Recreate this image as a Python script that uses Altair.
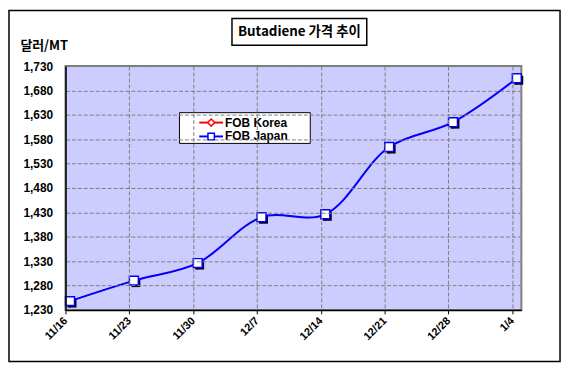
import altair as alt
import pandas as pd

# ---- data ----
dates = ["11/16", "11/23", "11/30", "12/7", "12/14", "12/21", "12/28", "1/4"]
korea = [1248, 1290, 1326, 1420, 1426, 1564, 1615, 1705]
japan = [1248, 1290, 1326, 1420, 1426, 1564, 1615, 1705]
series_names = ["FOB Korea", "FOB Japan"]
series_colors = ["#FF0000", "#0000FF"]
y_ticks = list(range(1230, 1731, 50))
day_ticks = [7 * i for i in range(len(dates))]

rows = []
for name, vals in zip(series_names, [korea, japan]):
    for i, v in enumerate(vals):
        rows.append({"series": name, "day": 7 * i + 0.5, "date": dates[i], "value": v})
df = pd.DataFrame(rows)

xscale = alt.Scale(domain=[0, 50], nice=False, zero=False)
yscale = alt.Scale(domain=[1230, 1730], nice=False, zero=False)
label_expr = " : ".join("datum.value == %d ? '%s'" % (t, d) for t, d in zip(day_ticks, dates)) + " : ''"

x_axis = alt.Axis(values=day_ticks, labelExpr=label_expr, title=None, zindex=1,
                  grid=True, gridColor="#808080", gridDash=[4, 2], gridWidth=1, gridOpacity=1,
                  labelAngle=-45, labelAlign="right", labelBaseline="middle",
                  labelFont="Liberation Sans", labelFontWeight="bold", labelFontSize=11,
                  labelColor="black", labelPadding=5, labelOverlap=False,
                  domainColor="black", domainWidth=1.5, tickColor="black", tickSize=4)
y_axis = alt.Axis(values=y_ticks, format=",d", title="달러/MT", titleAngle=0, zindex=1,
                  titleAlign="left", titleBaseline="alphabetic", titleX=-46, titleY=-17,
                  titleFont="Noto Sans CJK KR", titleFontWeight="bold", titleFontSize=13,
                  titleColor="black", labelFont="Liberation Sans", labelFontWeight="bold",
                  labelFontSize=12, labelColor="black", labelPadding=13, ticks=False,
                  grid=True, gridColor="#808080", gridDash=[4, 2], gridWidth=1, gridOpacity=1,
                  domainColor="black", domainWidth=1.5, labelOverlap=False)

one = pd.DataFrame({"a": [0]})

frame = alt.Chart(one).mark_rect(filled=False, stroke="black", strokeWidth=1.5).encode(
    x=alt.value(-57), x2=alt.value(499), y=alt.value(-56), y2=alt.value(298))

title_box = alt.Chart(one).mark_rect(fill="white", stroke="black", strokeWidth=1.5).encode(
    x=alt.value(168), x2=alt.value(304), y=alt.value(-48), y2=alt.value(-21))
title_text = alt.Chart(one).mark_text(
    text="Butadiene 가격 추이", font="Noto Sans CJK KR", fontWeight="bold", fontSize=13.5,
    align="center", baseline="middle", color="black").encode(
    x=alt.value(236), y=alt.value(-34))

base = alt.Chart(df).encode(
    x=alt.X("day:Q", scale=xscale, axis=x_axis),
    y=alt.Y("value:Q", scale=yscale, axis=y_axis))

line_color = alt.Color("series:N", scale=alt.Scale(domain=series_names, range=series_colors),
                       legend=None)
k_line = base.transform_filter("datum.series == 'FOB Korea'").mark_line(
    interpolate="catmull-rom", strokeWidth=1).encode(color=line_color)
j_line = base.transform_filter("datum.series == 'FOB Japan'").mark_line(
    interpolate="catmull-rom", strokeWidth=2).encode(color=line_color)

k_pts = base.transform_filter("datum.series == 'FOB Korea'").mark_point(
    shape="diamond", filled=True, fill="white", stroke="#FF0000", strokeWidth=1.5,
    size=60, opacity=1, yOffset=2)
shadow = base.transform_filter("datum.series == 'FOB Japan'").mark_square(
    size=81, color="black", xOffset=2, yOffset=2, opacity=1)
j_pts = base.transform_filter("datum.series == 'FOB Japan'").mark_square(
    size=81, fill="white", stroke="#0000FF", strokeWidth=1.5, opacity=1)

# ---- legend box (line + marker per series) ----
leg_df = pd.DataFrame({"series": series_names, "row": [0, 1]})
leg = alt.Chart(leg_df).transform_calculate(yp="57 + 14 * datum.row")
leg_box = alt.Chart(one).mark_rect(fill="white", stroke="black", strokeWidth=1).encode(
    x=alt.value(115), x2=alt.value(247), y=alt.value(47), y2=alt.value(78))
leg_lines = leg.mark_rule(strokeWidth=2).encode(
    x=alt.value(135), x2=alt.value(159), y=alt.Y("yp:Q", scale=None), color=line_color)
leg_k = leg.transform_filter("datum.row == 0").mark_point(
    shape="diamond", filled=True, fill="white", stroke="#FF0000", strokeWidth=1.5,
    size=50, opacity=1).encode(x=alt.value(147), y=alt.Y("yp:Q", scale=None))
leg_j = leg.transform_filter("datum.row == 1").mark_square(
    fill="white", stroke="#0000FF", strokeWidth=1.5, size=42, opacity=1).encode(
    x=alt.value(147), y=alt.Y("yp:Q", scale=None))
leg_text = leg.mark_text(align="left", baseline="middle", font="Liberation Sans",
                         fontWeight="bold", fontSize=12, color="black").encode(
    x=alt.value(161), y=alt.Y("yp:Q", scale=None), text="series:N")

chart = alt.layer(
    frame, title_box, title_text, k_line, k_pts, shadow, j_line,
    j_pts, leg_box, leg_lines, leg_k, leg_j, leg_text
).properties(
    width=460, height=246,
    padding={"left": 58, "top": 57, "right": 42, "bottom": 56},
    autosize=alt.AutoSizeParams(type="none"),
    background="white",
).configure_view(
    fill="#CCCCFF", stroke="#808080", strokeWidth=2
)

chart.save("out.html", embed_options={"renderer": "svg", "actions": False})
